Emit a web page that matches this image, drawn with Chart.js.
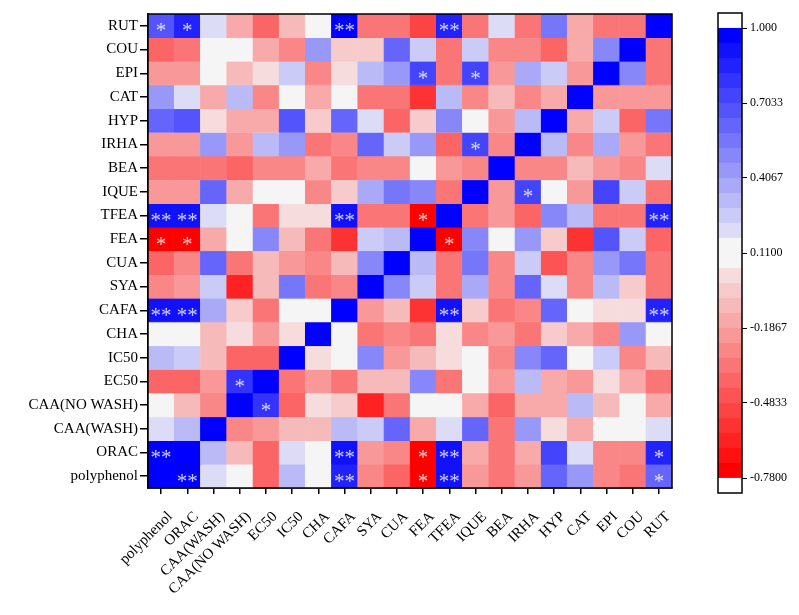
<!DOCTYPE html>
<html>
<head>
<meta charset="utf-8">
<script src="https://cdn.jsdelivr.net/npm/chart.js@4/dist/chart.umd.min.js"></script>
<style>
html,body{margin:0;padding:0;background:#fff;}
#wrap{position:relative;width:799px;height:615px;}
canvas{position:absolute;left:0;top:0;}
</style>
</head>
<body>
<div id="wrap">
<canvas id="main" width="799" height="615"></canvas>
<canvas id="bar" width="799" height="615"></canvas>
</div>
<script>
// ---- data ----
const columns = ['polyphenol','ORAC','CAA(WASH)','CAA(NO WASH)','EC50','IC50','CHA','CAFA','SYA','CUA','FEA','TFEA','IQUE','BEA','IRHA','HYP','CAT','EPI','COU','RUT'];
const rowLabels = ['RUT','COU','EPI','CAT','HYP','IRHA','BEA','IQUE','TFEA','FEA','CUA','SYA','CAFA','CHA','IC50','EC50','CAA(NO WASH)','CAA(WASH)','ORAC','polyphenol'];
// correlation values, rows top->bottom, columns left->right
const corr = [
 [0.65, 0.85, 0.2, -0.15, -0.38, -0.08, 0.11, 0.95, -0.35, -0.35, -0.5, 0.85, -0.33, 0.17, -0.33, 0.55, -0.13, -0.33, -0.33, 1],
 [-0.38, -0.33, 0.11, 0.11, -0.15, -0.28, 0.45, -0.02, -0.02, 0.6, 0.27, -0.35, 0.27, -0.28, -0.27, -0.42, -0.13, 0.52, 1, -0.35],
 [-0.23, -0.23, 0.11, -0.1, 0.03, 0.25, -0.28, 0.03, 0.33, 0.45, 0.75, -0.35, 0.75, -0.23, 0.36, 0.27, -0.23, 1, 0.52, -0.33],
 [0.45, 0.2, -0.15, 0.34, -0.25, 0.11, -0.18, 0.11, -0.35, -0.35, -0.55, 0.31, -0.25, -0.1, -0.27, -0.18, 1, -0.23, -0.2, -0.2],
 [0.64, 0.7, 0.03, -0.18, -0.15, 0.67, -0.03, 0.64, 0.17, -0.42, -0.03, 0.5, 0.11, -0.23, 0.34, 1, -0.18, 0.25, -0.42, 0.53],
 [-0.22, -0.2, 0.45, -0.2, 0.33, 0.45, -0.35, -0.25, 0.64, 0.27, 0.45, -0.42, 0.75, -0.27, 1, 0.33, -0.27, 0.38, -0.23, -0.33],
 [-0.35, -0.35, -0.35, -0.4, -0.27, -0.3, -0.15, -0.33, -0.27, -0.27, 0.11, -0.2, -0.25, 1, -0.27, -0.25, -0.1, -0.23, -0.27, 0.17],
 [-0.22, -0.2, 0.64, -0.18, 0.11, 0.11, -0.28, -0.03, 0.38, 0.53, 0.5, -0.35, 1, -0.23, 0.75, 0.11, -0.22, 0.73, 0.25, -0.33],
 [0.92, 0.92, 0.17, 0.11, -0.35, 0.03, 0.03, 0.92, -0.35, -0.35, -0.75, 1, -0.35, -0.2, -0.42, 0.48, 0.31, -0.35, -0.35, 0.85],
 [-0.75, -0.75, -0.15, 0.11, 0.52, -0.12, -0.35, -0.55, 0.27, 0.33, 1, -0.75, 0.48, 0.11, 0.45, -0.02, -0.58, 0.67, 0.27, -0.42],
 [-0.37, -0.3, 0.6, -0.35, -0.1, -0.23, -0.27, -0.12, 0.52, 1, 0.33, -0.33, 0.55, -0.28, 0.25, -0.45, -0.28, 0.45, 0.57, -0.35],
 [-0.27, -0.2, 0.27, -0.65, -0.12, 0.55, -0.35, -0.27, 1, 0.52, 0.27, -0.35, 0.38, -0.28, 0.64, 0.17, -0.27, 0.33, -0.02, -0.35],
 [0.92, 0.92, 0.38, -0.03, -0.33, 0.11, 0.11, 1, -0.22, -0.12, -0.58, 0.92, -0.03, -0.35, -0.25, 0.64, 0.11, 0.05, 0.0, 0.88],
 [0.11, 0.11, -0.12, 0.02, -0.23, 0.02, 1, 0.11, -0.33, -0.27, -0.35, 0.02, -0.27, -0.2, -0.35, -0.06, -0.15, -0.28, 0.45, 0.11],
 [0.31, 0.25, -0.12, -0.42, -0.4, 1, 0.02, 0.11, 0.52, -0.23, -0.1, 0.02, 0.11, -0.27, 0.47, 0.64, 0.11, 0.27, -0.3, -0.1],
 [-0.4, -0.4, -0.23, 0.78, 1, -0.35, -0.23, -0.33, -0.1, -0.1, 0.5, -0.35, 0.11, -0.23, 0.33, -0.13, -0.23, 0.02, -0.15, -0.35],
 [0.11, -0.1, -0.27, 1, 0.78, -0.37, 0.02, -0.04, -0.62, -0.33, 0.11, 0.11, -0.15, -0.4, -0.15, -0.15, 0.31, -0.1, 0.11, -0.15],
 [0.17, 0.31, 1, -0.27, -0.23, -0.12, -0.12, 0.34, 0.25, 0.6, -0.18, 0.17, 0.64, -0.33, 0.45, 0.02, -0.15, 0.11, 0.11, 0.17],
 [0.95, 1, 0.33, -0.1, -0.38, 0.22, 0.11, 0.92, -0.22, -0.28, -0.75, 0.92, -0.15, -0.33, -0.18, 0.72, 0.17, -0.25, -0.27, 0.85],
 [1, 0.95, 0.17, 0.11, -0.37, 0.3, 0.11, 0.85, -0.27, -0.38, -0.75, 0.92, -0.22, -0.33, -0.23, 0.64, 0.45, -0.25, -0.33, 0.64]
];
// significance marks: [row label, column label, mark]
const stars = [
 ['RUT','polyphenol','*'],['RUT','ORAC','*'],['RUT','CAFA','**'],['RUT','TFEA','**'],
 ['EPI','FEA','*'],['EPI','IQUE','*'],
 ['IRHA','IQUE','*'],
 ['IQUE','IRHA','*'],
 ['TFEA','polyphenol','**'],['TFEA','ORAC','**'],['TFEA','CAFA','**'],['TFEA','FEA','*'],['TFEA','RUT','**'],
 ['FEA','polyphenol','*'],['FEA','ORAC','*'],['FEA','TFEA','*'],
 ['CAFA','polyphenol','**'],['CAFA','ORAC','**'],['CAFA','TFEA','**'],['CAFA','RUT','**'],
 ['EC50','CAA(NO WASH)','*'],
 ['CAA(NO WASH)','EC50','*'],
 ['ORAC','polyphenol','**'],['ORAC','CAFA','**'],['ORAC','FEA','*'],['ORAC','TFEA','**'],['ORAC','RUT','*'],
 ['polyphenol','ORAC','**'],['polyphenol','CAFA','**'],['polyphenol','FEA','*'],['polyphenol','TFEA','**'],['polyphenol','RUT','*']
];
const colorbarTicks = [-0.78, -0.4833, -0.1867, 0.11, 0.4067, 0.7033, 1.0];
const colorbarLabels = ['-0.7800', '-0.4833', '-0.1867', '0.1100', '0.4067', '0.7033', '1.000'];

// ---- colour scale ----
const cmin = -0.78, cmax = 1.0, cmid = 0.11, nBands = 30;
const step = (cmax - cmin) / nBands;
function bandIndex(v){ return Math.max(0, Math.min(nBands-1, Math.floor((v - cmin)/step + 1e-9))); }
function bandColor(k){
  const c = cmin + (k + 0.5)*step;
  if (Math.abs(c - cmid) < step*0.55) return 'rgb(245,245,245)';
  if (c > cmid){
    const top = cmin + (nBands - 0.5)*step;
    const t = Math.min(1, (c - cmid)/(top - cmid));
    const g = Math.round(245*(1-t));
    return `rgb(${g},${g},${Math.round(245+10*t)})`;
  } else {
    const bot = cmin + 0.5*step;
    const t = Math.min(1, (cmid - c)/(cmid - bot));
    const g = Math.round(245*(1-t));
    return `rgb(${Math.round(245+10*t)},${g},${g})`;
  }
}
const colorOf = v => bandColor(bandIndex(v));

const FONT = 'Liberation Serif';
const nCols = columns.length;

// ---- main heatmap ----
const frame = {
  id:'frame',
  afterDraw(chart){
    const a = chart.chartArea, ctx = chart.ctx;
    ctx.save(); ctx.strokeStyle = '#000'; ctx.lineWidth = 1.5;
    ctx.strokeRect(a.left, a.top, a.right - a.left, a.bottom - a.top);
    ctx.restore();
  }
};
const starPlugin = {
  id:'stars',
  afterDatasetsDraw(chart){
    const ctx = chart.ctx, xs = chart.scales.x, ys = chart.scales.y;
    ctx.save();
    ctx.fillStyle = 'rgba(255,255,255,0.8)';
    ctx.font = `21px "${FONT}"`;
    ctx.textAlign = 'center';
    ctx.textBaseline = 'middle';
    stars.forEach(([r, c, m]) => {
      const ri = rowLabels.indexOf(r), ci = columns.indexOf(c);
      const x = xs.getPixelForValue(ci);
      const y = ys.getPixelForValue(nCols - 1 - ri);
      ctx.fillText(m, x, y + 6);
    });
    ctx.restore();
  }
};

new Chart(document.getElementById('main'), {
  type:'bar',
  data:{
    labels: columns,
    datasets: corr.map((row, i) => {
      const cols = row.map(colorOf);
      const yv = nCols - 1 - i;
      return {
        label: rowLabels[i],
        data: row.map(() => [yv - 0.5, yv + 0.5]),
        backgroundColor: cols,
        borderColor: cols,
        borderWidth: 0.6,
        borderSkipped: false,
        grouped: false,
        barPercentage: 1,
        categoryPercentage: 1
      };
    })
  },
  options:{
    responsive:false,
    animation:false,
    events:[],
    layout:{padding:{top:14, right:127, left:0, bottom:0}},
    plugins:{legend:{display:false}, tooltip:{enabled:false}},
    scales:{
      x:{
        offset:true,
        grid:{offset:false, drawOnChartArea:false, drawTicks:true, tickLength:6, color:'#000', lineWidth:1.5},
        border:{color:'#000', width:1.5},
        ticks:{color:'#000', font:{family:FONT, size:15}, minRotation:45, maxRotation:45, autoSkip:false, padding:14, labelOffset:9},
        afterFit(s){ s.height = 127; }
      },
      y:{
        type:'linear', min:-0.5, max:19.5,
        afterBuildTicks(s){ s.ticks = columns.map((_, i) => ({value:i})); },
        grid:{drawOnChartArea:false, drawTicks:true, tickLength:8, color:'#000', lineWidth:1.5},
        border:{color:'#000', width:1.5},
        ticks:{color:'#000', font:{family:FONT, size:15}, padding:2, autoSkip:false,
               callback:(v) => columns[v]},
        afterFit(s){ s.width = 148; }
      }
    }
  },
  plugins:[starPlugin, frame]
});

// ---- colour bar ----
const bands = [];
bands.push({lo: cmin - step, hi: cmin, color:'#ffffff'});
for (let k = 0; k < nBands; k++) bands.push({lo: cmin + k*step, hi: cmin + (k+1)*step, color: bandColor(k)});
bands.push({lo: cmax, hi: cmax + step, color:'#ffffff'});

new Chart(document.getElementById('bar'), {
  type:'bar',
  data:{
    labels:['c'],
    datasets: bands.map(b => ({
      data:[[b.lo, b.hi]],
      backgroundColor:b.color, borderColor:b.color, borderWidth:0.6, borderSkipped:false,
      grouped:false, barPercentage:1, categoryPercentage:1
    }))
  },
  options:{
    responsive:false,
    animation:false,
    events:[],
    layout:{padding:{top:13, left:718, bottom:122, right:0}},
    plugins:{legend:{display:false}, tooltip:{enabled:false}},
    scales:{
      x:{display:false},
      y:{
        type:'linear', position:'right', min:cmin - step, max:cmax + step,
        afterBuildTicks(s){ s.ticks = colorbarTicks.map(v => ({value:v})); },
        grid:{drawOnChartArea:false, drawTicks:true, tickLength:5, color:'#000', lineWidth:1},
        border:{display:false},
        ticks:{color:'#000', font:{family:FONT, size:12}, padding:3,
               callback:(v, i) => colorbarLabels[i]},
        afterFit(s){ s.width = 57; }
      }
    }
  },
  plugins:[frame]
});
</script>
</body>
</html>
